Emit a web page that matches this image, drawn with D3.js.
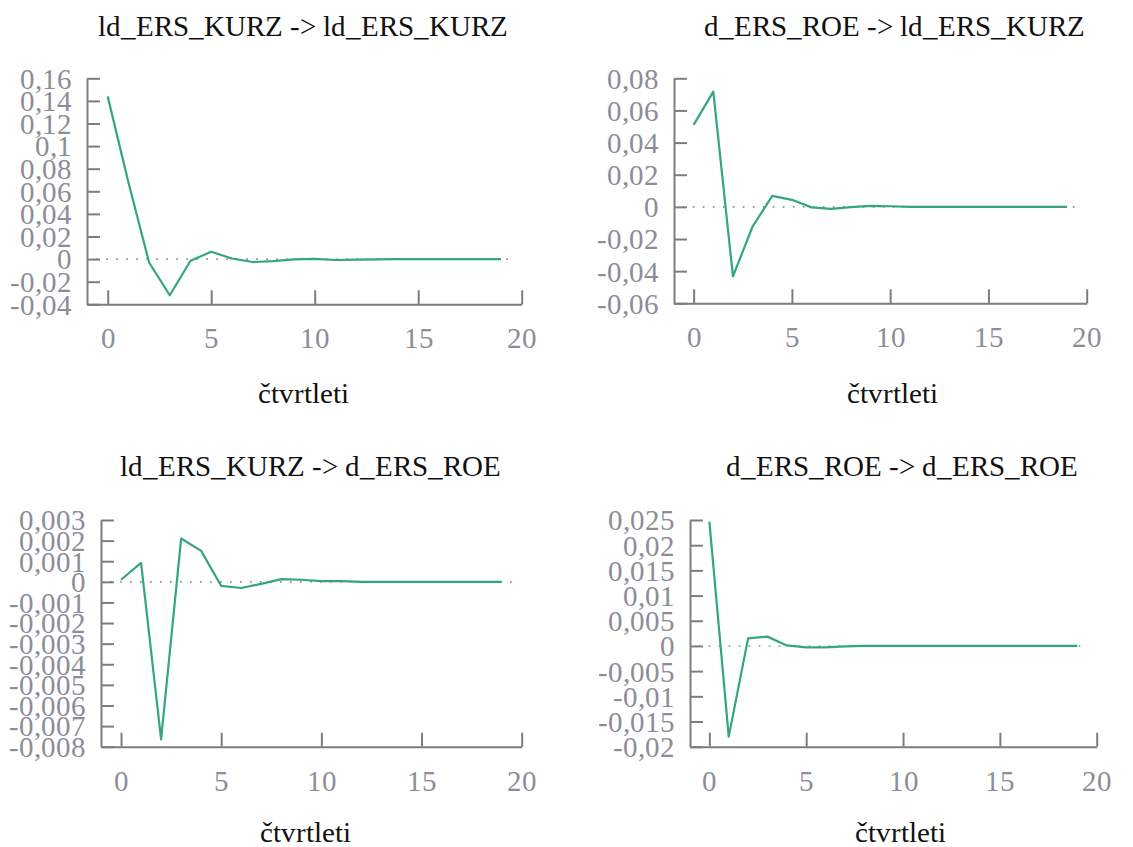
<!DOCTYPE html>
<html>
<head>
<meta charset="utf-8">
<script src="https://cdn.jsdelivr.net/npm/d3@7"></script>
<style>
  @font-face {
    font-family: "ChartSerif";
    src: local("Liberation Serif"), local("LiberationSerif-Regular"), local("LiberationSerif"),
         local("Times New Roman"), local("DejaVu Serif"), local("DejaVuSerif"), local("Noto Serif"), local("NotoSerif-Regular");
  }
  html, body { margin: 0; padding: 0; background: #ffffff; }
  svg { display: block; }
</style>
</head>
<body>
<svg id="chart" width="1133" height="847"></svg>
<script>
// Impulse responses over 20 quarters (period 0..19)
const periods = d3.range(0, 20);

const kurzToKurz = [0.144, 0.068, -0.003, -0.032, -0.0015, 0.0065, 0.0005, -0.0026, -0.0018, -0.0003,
                    0.0002, -0.0008, -0.0005, -0.0002, 0, 0, 0, 0, 0, 0];
const roeToKurz  = [0.051, 0.0717, -0.0433, -0.0122, 0.0068, 0.0044, -0.0003, -0.0012, -0.0002, 0.0006,
                    0.0004, 0, 0, 0, 0, 0, 0, 0, 0, 0];
const kurzToRoe  = [0.0001, 0.00092, -0.00764, 0.0021, 0.0015, -0.0002, -0.0003, -0.0001, 0.00013, 0.0001,
                    0.00003, 0.00003, 0, 0, 0, 0, 0, 0, 0, 0];
const roeToRoe   = [0.0247, -0.018, 0.0015, 0.00185, 0.0001, -0.0003, -0.0003, -0.0001, 0, 0,
                    0, 0, 0, 0, 0, 0, 0, 0, 0, 0];

// Axis tick values
const xTicks = [0, 5, 10, 15, 20];
const yTicksKurzKurz = [0.16, 0.14, 0.12, 0.1, 0.08, 0.06, 0.04, 0.02, 0, -0.02, -0.04];
const yTicksRoeKurz  = [0.08, 0.06, 0.04, 0.02, 0, -0.02, -0.04, -0.06];
const yTicksKurzRoe  = [0.003, 0.002, 0.001, 0, -0.001, -0.002, -0.003, -0.004, -0.005, -0.006, -0.007, -0.008];
const yTicksRoeRoe   = [0.025, 0.02, 0.015, 0.01, 0.005, 0, -0.005, -0.01, -0.015, -0.02];

const titles = [
  "ld_ERS_KURZ -> ld_ERS_KURZ",
  "d_ERS_ROE -> ld_ERS_KURZ",
  "ld_ERS_KURZ -> d_ERS_ROE",
  "d_ERS_ROE -> d_ERS_ROE"
];
const xLabel = "čtvrtleti";

// Panel frames (pixel layout)
const panels = [
  { values: kurzToKurz, yTicks: yTicksKurzKurz, title: titles[0],
    left: 87, right: 521.7, top: 78.3, bottom: 304.3, titleX: 303, xlabX: 303, titleY: 36, xlabY: 403 },
  { values: roeToKurz, yTicks: yTicksRoeKurz, title: titles[1],
    left: 674, right: 1086.7, top: 78.3, bottom: 303.3, titleX: 894, xlabX: 892, titleY: 36, xlabY: 403 },
  { values: kurzToRoe, yTicks: yTicksKurzRoe, title: titles[2],
    left: 101, right: 521.7, top: 520, bottom: 746.7, titleX: 310, xlabX: 305, titleY: 476, xlabY: 842 },
  { values: roeToRoe, yTicks: yTicksRoeRoe, title: titles[3],
    left: 690, right: 1096.7, top: 520, bottom: 746.7, titleX: 902, xlabX: 900, titleY: 476, xlabY: 842 }
];

const FONT = "ChartSerif, 'Liberation Serif', 'Times New Roman', 'DejaVu Serif', serif";
const svg = d3.select("#chart");
const fmt = v => String(v).replace(".", ",");
const axisColor = "#7d7d7d";
const labelColor = "#8d8d98";
const lineColor = "#33a57f";

panels.forEach(p => {
  const g = svg.append("g");
  const x = d3.scaleLinear().domain([-1, 20]).range([p.left, p.right]);
  const y = d3.scaleLinear()
    .domain([d3.min(p.yTicks), d3.max(p.yTicks)])
    .range([p.bottom, p.top]);

  // zero reference line (dotted)
  g.append("line")
    .attr("x1", x(-0.55)).attr("x2", x(19.5))
    .attr("y1", y(0)).attr("y2", y(0))
    .attr("stroke", "#8a8a8a")
    .attr("stroke-width", 1.6)
    .attr("stroke-dasharray", "1.6 8.4");

  // y axis with inward ticks
  const yAxis = g.append("g")
    .attr("transform", `translate(${p.left},0)`)
    .call(d3.axisLeft(y).tickValues(p.yTicks).tickSize(-13).tickSizeOuter(0).tickPadding(15).tickFormat(fmt));
  yAxis.attr("font-family", FONT).attr("font-size", 29);
  yAxis.select(".domain").attr("stroke", axisColor).attr("stroke-width", 2);
  yAxis.selectAll(".tick line").attr("stroke", axisColor).attr("stroke-width", 2);
  yAxis.selectAll(".tick text").attr("dy", "0.34em").attr("fill", labelColor);

  // x axis with inward ticks
  const xAxis = g.append("g")
    .attr("transform", `translate(0,${p.bottom})`)
    .call(d3.axisBottom(x).tickValues(xTicks).tickSize(-14).tickSizeOuter(0).tickFormat(d3.format("d")));
  xAxis.attr("font-family", FONT).attr("font-size", 29);
  xAxis.select(".domain").attr("stroke", axisColor).attr("stroke-width", 2);
  xAxis.selectAll(".tick line").attr("stroke", axisColor).attr("stroke-width", 2);
  xAxis.selectAll(".tick text").attr("y", 44).attr("dy", 0).attr("fill", labelColor);

  // response line
  const line = d3.line().x((d, i) => x(periods[i])).y(d => y(d));
  g.append("path")
    .datum(p.values)
    .attr("d", line)
    .attr("fill", "none")
    .attr("stroke", lineColor)
    .attr("stroke-width", 2.2)
    .attr("stroke-linejoin", "round");

  g.append("text")
    .attr("x", p.titleX).attr("y", p.titleY)
    .attr("text-anchor", "middle")
    .attr("font-family", FONT).attr("font-size", 29).attr("fill", "#111")
    .text(p.title);

  g.append("text")
    .attr("x", p.xlabX).attr("y", p.xlabY)
    .attr("text-anchor", "middle")
    .attr("font-family", FONT).attr("font-size", 29).attr("fill", "#111")
    .text(xLabel);
});
</script>
</body>
</html>
